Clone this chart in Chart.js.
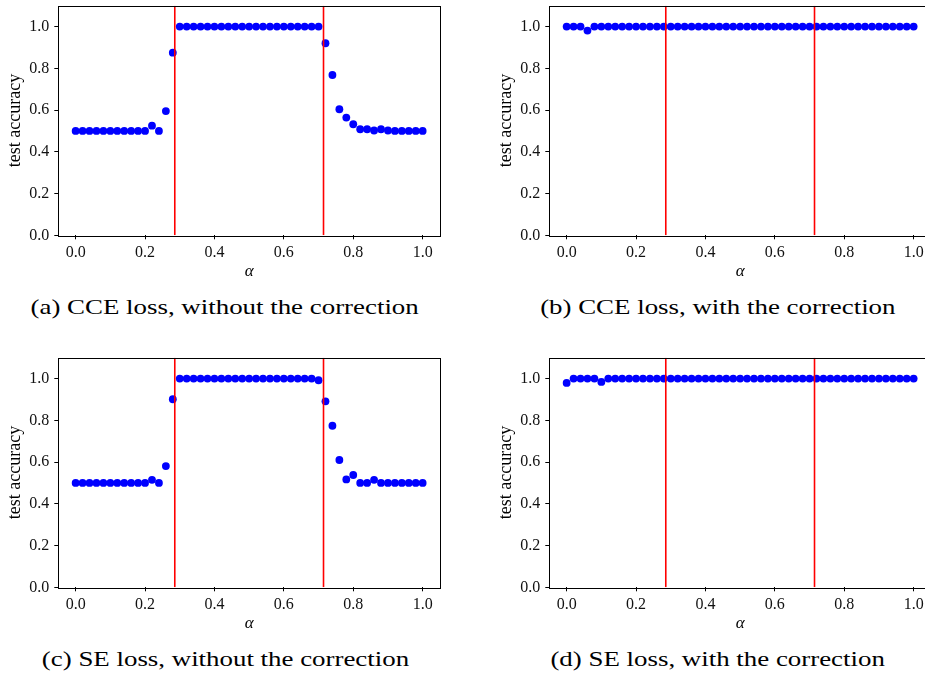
<!DOCTYPE html>
<html>
<head>
<meta charset="utf-8">
<script src="https://cdn.jsdelivr.net/npm/chart.js@4/dist/chart.umd.min.js"></script>
<style>
  html, body { margin: 0; padding: 0; background: #fff; overflow: hidden; width: 925px; height: 675px; }
  .cv { position: absolute; }
  .cap { position: absolute; width: 500px; height: 30px; line-height: 30px; text-align: center;
         font-family: "Liberation Serif", serif; font-size: 21px; color: #000; white-space: nowrap; }
  .cap span { display: inline-block; transform: scaleX(1.28); transform-origin: center; }
</style>
</head>
<body>
<canvas id="ca" class="cv" width="450" height="285" style="left:0px;top:0px"></canvas>
<canvas id="cb" class="cv" width="450" height="285" style="left:491px;top:0px"></canvas>
<canvas id="cc" class="cv" width="450" height="285" style="left:0px;top:351.5px"></canvas>
<canvas id="cd" class="cv" width="450" height="285" style="left:491px;top:351.5px"></canvas>
<div class="cap" style="left:-25px;top:292px"><span>(a) CCE loss, without the correction</span></div>
<div class="cap" style="left:468px;top:292px"><span>(b) CCE loss, with the correction</span></div>
<div class="cap" style="left:-25px;top:644px"><span>(c) SE loss, without the correction</span></div>
<div class="cap" style="left:468px;top:644px"><span>(d) SE loss, with the correction</span></div>
<script>
// ---- data ----
const alphaValues = [0.00,0.02,0.04,0.06,0.08,0.10,0.12,0.14,0.16,0.18,0.20,0.22,0.24,0.26,0.28,0.30,0.32,0.34,0.36,0.38,0.40,0.42,0.44,0.46,0.48,0.50,0.52,0.54,0.56,0.58,0.60,0.62,0.64,0.66,0.68,0.70,0.72,0.74,0.76,0.78,0.80,0.82,0.84,0.86,0.88,0.90,0.92,0.94,0.96,0.98,1.00];

const cceWithout = [0.5,0.5,0.5,0.5,0.5,0.5,0.5,0.5,0.5,0.5,0.5,0.525,0.5,0.595,0.875,
  1,1,1,1,1,1,1,1,1,1,1,1,1,1,1,1,1,1,1,1,1,
  0.92,0.768,0.604,0.564,0.532,0.508,0.508,0.502,0.508,0.502,0.5,0.5,0.5,0.5,0.5];

const cceWith = [1,1,1,0.981,1,1,1,1,1,1,1,1,1,1,1,1,1,1,1,1,1,1,1,1,1,1,1,1,1,1,1,1,1,1,1,1,1,1,1,1,1,1,1,1,1,1,1,1,1,1,1];

const seWithout = [0.5,0.5,0.5,0.5,0.5,0.5,0.5,0.5,0.5,0.5,0.5,0.515,0.5,0.581,0.901,
  1,1,1,1,1,1,1,1,1,1,1,1,1,1,1,1,1,1,1,1,0.992,
  0.891,0.774,0.610,0.517,0.538,0.5,0.5,0.515,0.5,0.5,0.5,0.5,0.5,0.5,0.5];

const seWith = [0.979,1,1,1,1,0.984,1,1,1,1,1,1,1,1,1,1,1,1,1,1,1,1,1,1,1,1,1,1,1,1,1,1,1,1,1,1,1,1,1,1,1,1,1,1,1,1,1,1,1,1,1];

const boundaries = [0.2857, 0.7143];
const xTickValues = [0.0, 0.2, 0.4, 0.6, 0.8, 1.0];
const yTickValues = [0.0, 0.2, 0.4, 0.6, 0.8, 1.0];
const yLabel = "test accuracy";
const xLabel = "\u03B1";

// ---- drawing ----
const FONT = "'Liberation Serif', serif";
const framePlugin = {
  id: 'frame',
  afterDraw(chart) {
    const a = chart.chartArea, ctx = chart.ctx;
    ctx.save();
    ctx.strokeStyle = '#000';
    ctx.lineWidth = 1;
    ctx.strokeRect(Math.round(a.left) + 0.5, Math.round(a.top) + 0.5,
                   Math.round(a.right - a.left), Math.round(a.bottom - a.top));
    ctx.restore();
  }
};

function makeChart(id, values) {
  const datasets = boundaries.map(b => ({
    data: [{x: b, y: 0}, {x: b, y: 1.1}],
    showLine: true, borderColor: '#ff0000', borderWidth: 1.6,
    pointRadius: 0, fill: false
  }));
  datasets.push({
    data: alphaValues.map((x, i) => ({x: x, y: values[i]})),
    showLine: false, pointRadius: 3.9, pointHoverRadius: 3.9,
    backgroundColor: '#0000ff', borderWidth: 0, pointBorderWidth: 0
  });
  new Chart(document.getElementById(id), {
    type: 'scatter',
    data: { datasets },
    plugins: [framePlugin],
    options: {
      responsive: false, animation: false, devicePixelRatio: 1,
      layout: { padding: { top: 5.7, right: 10, left: 0, bottom: 0 } },
      plugins: { legend: { display: false }, tooltip: { enabled: false } },
      scales: {
        x: {
          type: 'linear', min: -0.05, max: 1.05,
          border: { display: false },
          grid: { drawOnChartArea: false, drawTicks: true, tickLength: 4, color: '#000', lineWidth: 1 },
          afterBuildTicks: s => { s.ticks = xTickValues.map(v => ({value: v})); },
          afterFit: s => { s.height = 49.7; s.paddingLeft = 0; s.paddingRight = 0; },
          ticks: { color: '#111', font: { family: FONT, size: 16 }, padding: 4, maxRotation: 0,
                   callback: v => Number(v).toFixed(1) },
          title: { display: true, text: xLabel, color: '#000', font: { family: FONT, size: 17, style: 'italic' },
                   padding: { top: 0, bottom: 2.8 } }
        },
        y: {
          type: 'linear', min: 0, max: 1.1,
          border: { display: false },
          grid: { drawOnChartArea: false, drawTicks: true, tickLength: 4, color: '#000', lineWidth: 1 },
          afterBuildTicks: s => { s.ticks = yTickValues.map(v => ({value: v})); },
          afterFit: s => { s.width = 58.3; s.paddingTop = 0; s.paddingBottom = 0; },
          ticks: { color: '#111', font: { family: FONT, size: 16 }, padding: 5,
                   callback: v => Number(v).toFixed(1) },
          title: { display: true, text: yLabel, color: '#000', font: { family: FONT, size: 18 },
                   padding: { top: 4.2, bottom: 0 } }
        }
      }
    }
  });
}

makeChart('ca', cceWithout);
makeChart('cb', cceWith);
makeChart('cc', seWithout);
makeChart('cd', seWith);
</script>
</body>
</html>
